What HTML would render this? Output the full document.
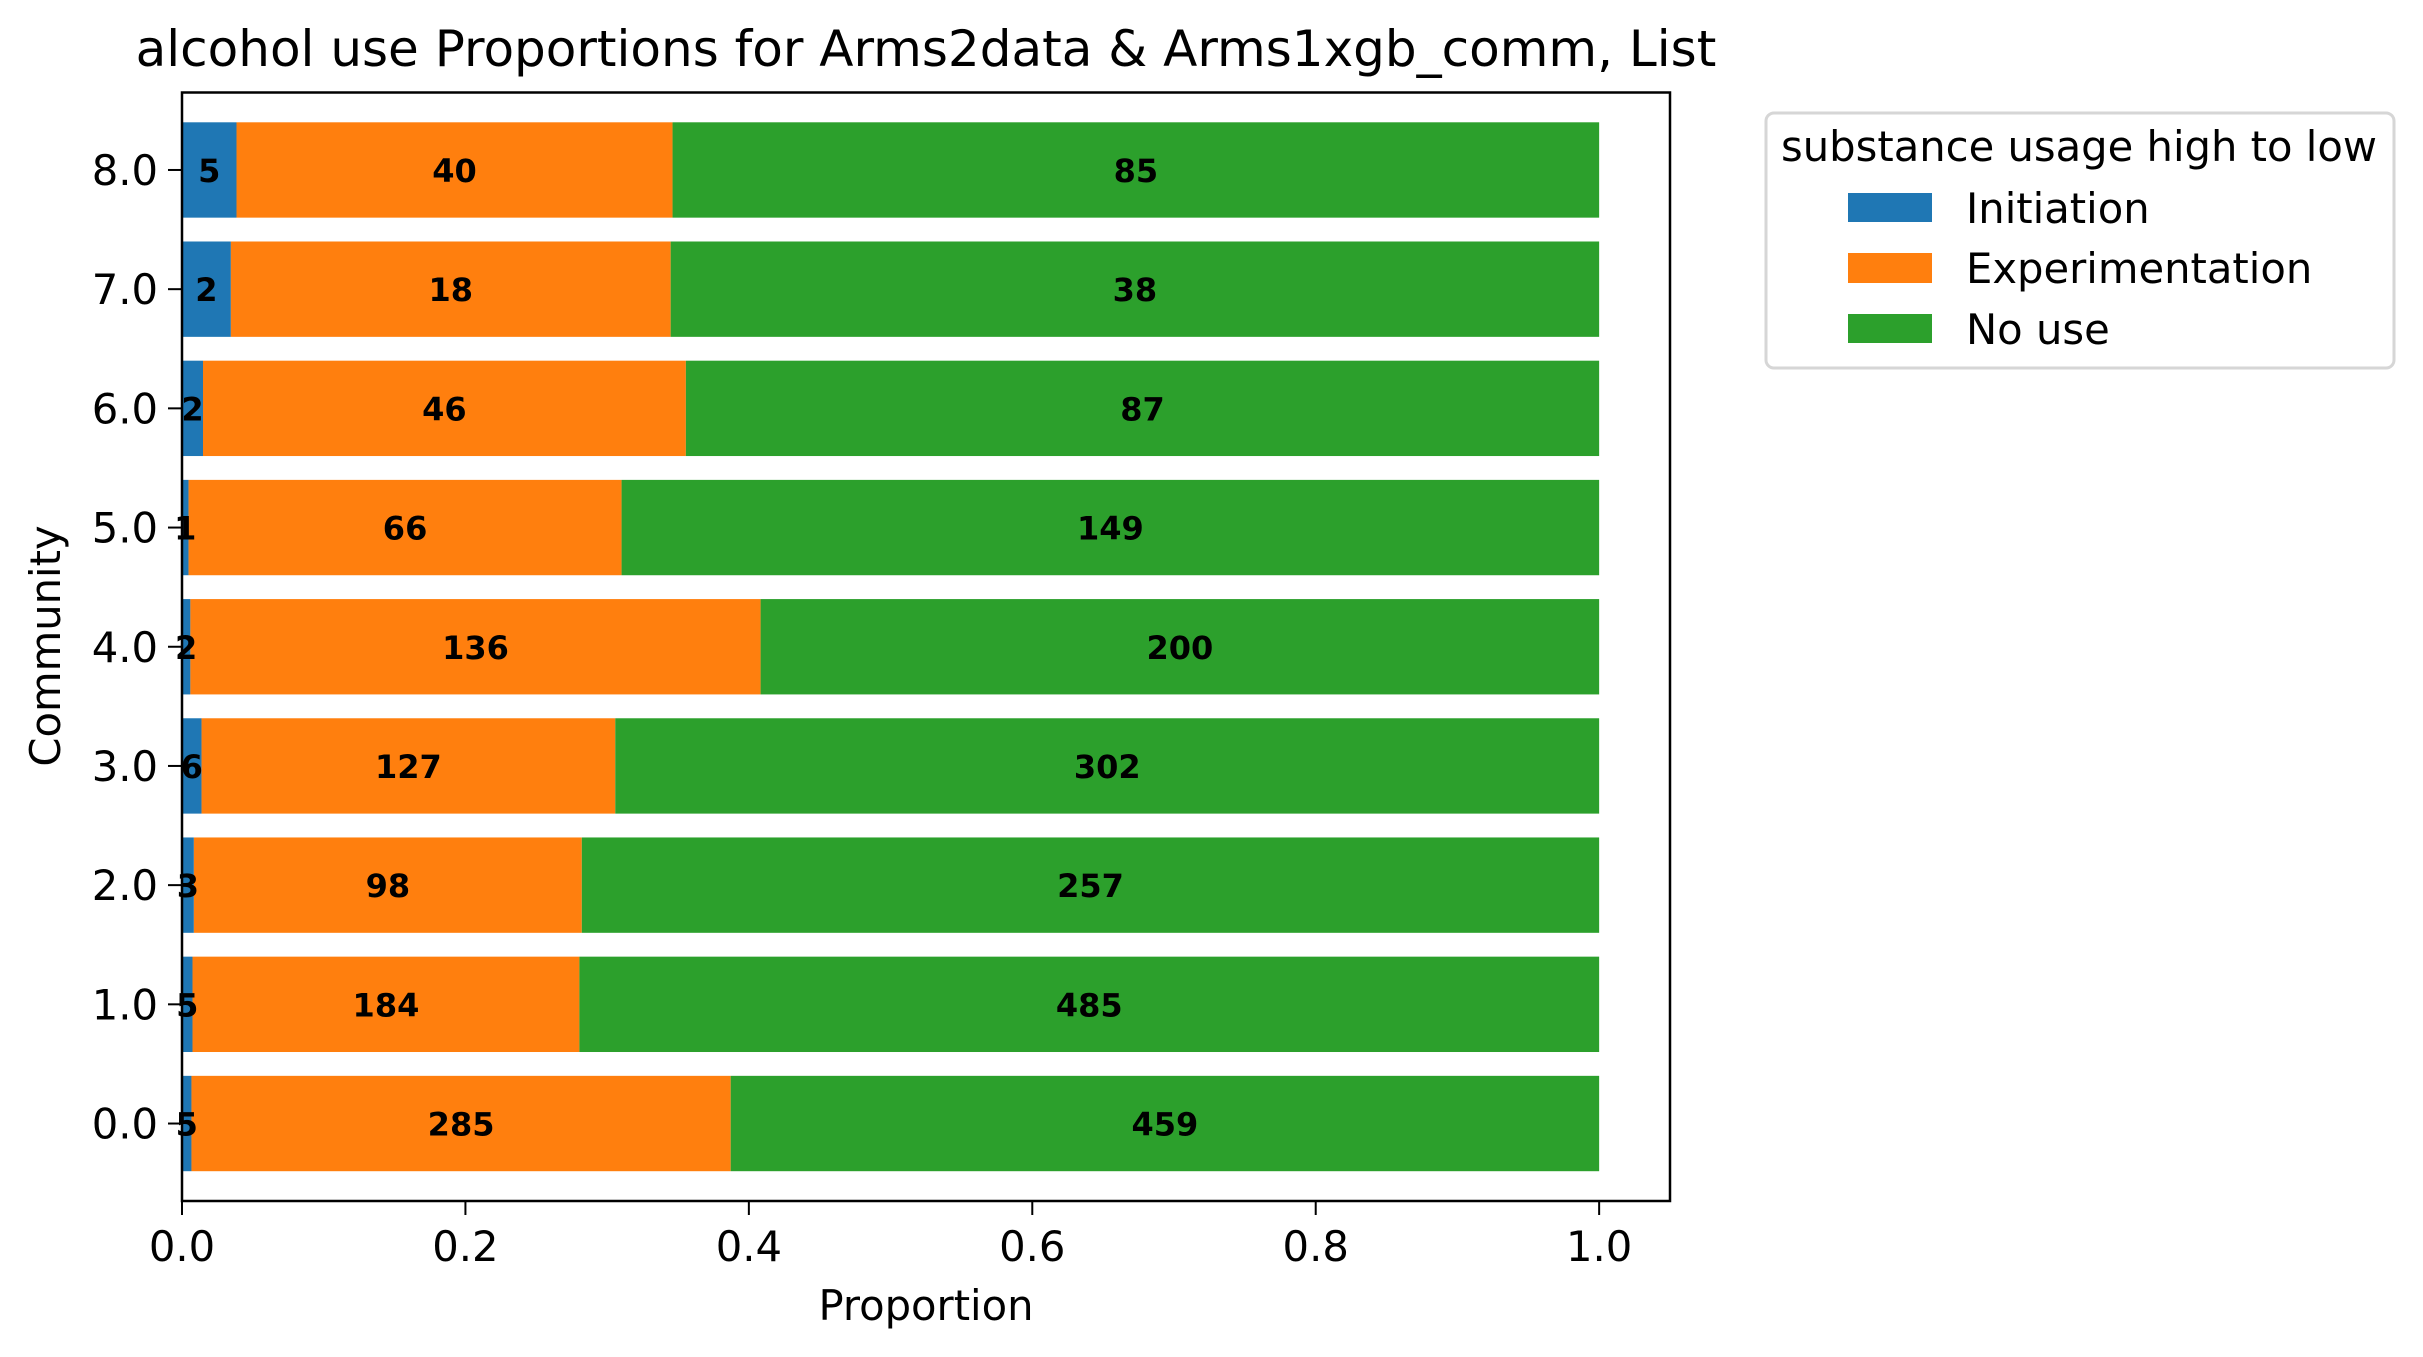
<!DOCTYPE html>
<html><head><meta charset="utf-8"><style>
html,body{margin:0;padding:0;background:#fff;}
svg{display:block;font-family:"DejaVu Sans","Liberation Sans",sans-serif;}
</style></head><body>
<svg id="chart" width="2423" height="1357" viewBox="0 0 2423 1357">
<text x="926" y="66" font-size="50" text-anchor="middle">alcohol use Proportions for Arms2data &amp; Arms1xgb_comm, List</text>
<g id="bars"></g>
<g id="axes"></g>
<text x="926" y="1320" font-size="41.7" text-anchor="middle">Proportion</text>
<text transform="translate(60,646) rotate(-90)" font-size="41.7" text-anchor="middle">Community</text>
<g>
<rect x="1766" y="113" width="628" height="255" rx="8" fill="#fff" stroke="#d6d6d6" stroke-width="3"/>
<text x="2079" y="161" font-size="41.7" text-anchor="middle">substance usage high to low</text>
<rect x="1848" y="193" width="84" height="29" fill="#1f77b4"/>
<text x="1966" y="223" font-size="41.7">Initiation</text>
<rect x="1848" y="253" width="84" height="30" fill="#ff7f0e"/>
<text x="1966" y="283" font-size="41.7">Experimentation</text>
<rect x="1848" y="314" width="84" height="29" fill="#2ca02c"/>
<text x="1966" y="344" font-size="41.7">No use</text>
</g>
</svg>
<script>
const categories = ["0.0","1.0","2.0","3.0","4.0","5.0","6.0","7.0","8.0"];
const initiation = [5,5,3,6,2,1,2,2,5];
const experimentation = [285,184,98,127,136,66,46,18,40];
const noUse = [459,485,257,302,200,149,87,38,85];
const xTicks = [0,0.2,0.4,0.6,0.8,1.0];
const xTickLabels = ["0.0","0.2","0.4","0.6","0.8","1.0"];

const NS="http://www.w3.org/2000/svg";
const L=182,R=1670,T=92.5,B=1201;
const xMin=0,xMax=1.05,yMin=-0.65,yMax=categories.length-1+0.65;
function xs(v){return L+(v-xMin)/(xMax-xMin)*(R-L);}
function ys(i){return B-(i-yMin)/(yMax-yMin)*(B-T);}
const step=(B-T)/(yMax-yMin), bh=0.8*step;
const bars=document.getElementById('bars'), axes=document.getElementById('axes');
function mk(tag,attrs,parent){const e=document.createElementNS(NS,tag);for(const k in attrs)e.setAttribute(k,attrs[k]);parent.appendChild(e);return e;}
const series=[["initiation",initiation,"#1f77b4"],["experimentation",experimentation,"#ff7f0e"],["no-use",noUse,"#2ca02c"]];
categories.forEach((c,i)=>{
  const tot=initiation[i]+experimentation[i]+noUse[i];
  let acc=0;
  series.forEach(([nm,arr,col])=>{
    const p=arr[i]/tot;
    const x0=xs(acc),x1=xs(acc+p);
    const r=mk('rect',{x:x0,y:ys(i)-bh/2,width:x1-x0,height:bh,fill:col},bars);
    
    
    acc+=p;
  });
  acc=0;
  series.forEach(([nm,arr])=>{
    const p=arr[i]/tot;
    const t=mk('text',{x:xs(acc+p/2),y:ys(i)+12,'font-size':32,'font-weight':'bold','text-anchor':'middle'},bars);
    t.textContent=arr[i];
    
    
    acc+=p;
  });
  const tk=mk('line',{x1:L-14,x2:L,y1:ys(i),y2:ys(i),stroke:'#000','stroke-width':2},axes);
  
  
  const tl=mk('text',{x:L-24,y:ys(i)+15,'font-size':41.7,'text-anchor':'end'},axes);
  tl.textContent=c;
  
  
});
xTicks.forEach((v,j)=>{
  const tk=mk('line',{x1:xs(v),x2:xs(v),y1:B,y2:B+14,stroke:'#000','stroke-width':2},axes);
  
  
  const tl=mk('text',{x:xs(v),y:1261,'font-size':41.7,'text-anchor':'middle'},axes);
  tl.textContent=xTickLabels[j];
  
  
});
const fr=mk('rect',{x:L,y:T,width:R-L,height:B-T,fill:'none',stroke:'#000','stroke-width':2.5},axes);


</script>
</body></html>
